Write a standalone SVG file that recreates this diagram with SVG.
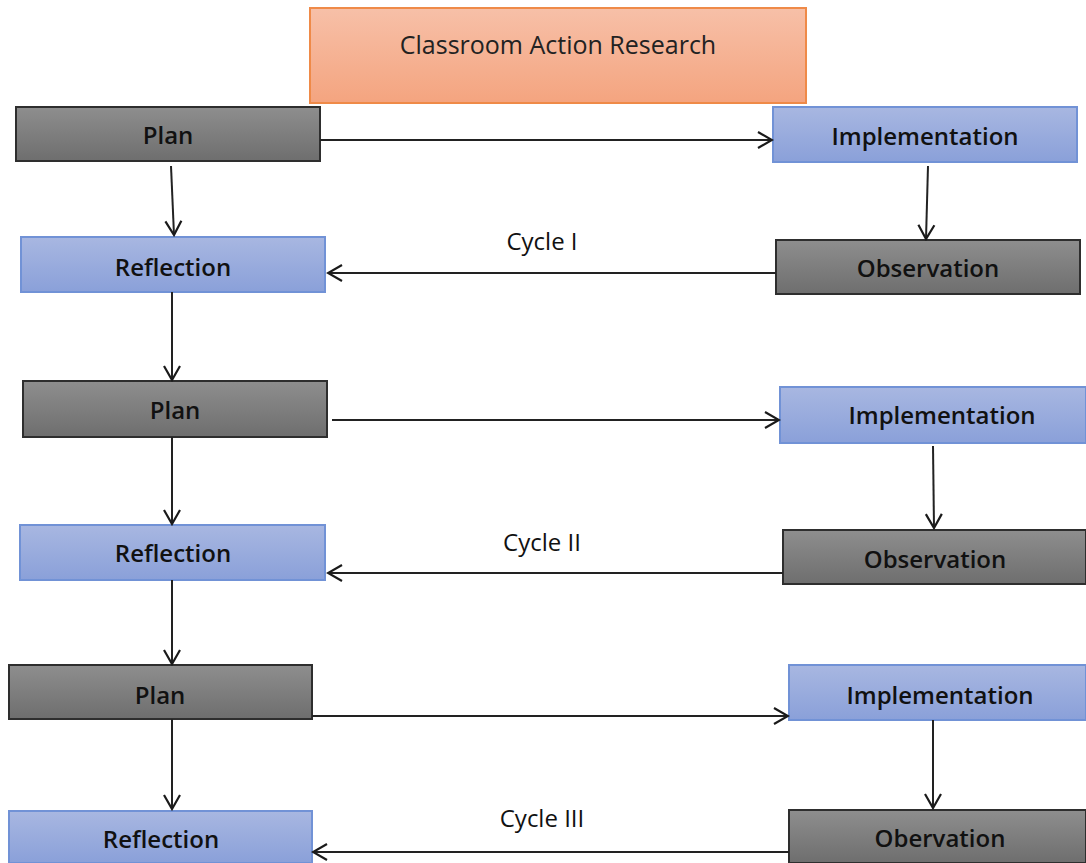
<svg xmlns="http://www.w3.org/2000/svg" width="1086" height="863" viewBox="0 0 1086 863">
<defs>
<linearGradient id="gGray" x1="0" y1="0" x2="0" y2="1"><stop offset="0" stop-color="#8e8e8e"/><stop offset="1" stop-color="#6e6e6e"/></linearGradient>
<linearGradient id="gBlue" x1="0" y1="0" x2="0" y2="1"><stop offset="0" stop-color="#a8b7e1"/><stop offset="1" stop-color="#8aa0d9"/></linearGradient>
<linearGradient id="gOrange" x1="0" y1="0" x2="0" y2="1"><stop offset="0" stop-color="#f7c0a8"/><stop offset="1" stop-color="#f4a47f"/></linearGradient>
<marker id="arr" viewBox="0 0 20 20" refX="18" refY="10" markerWidth="20" markerHeight="20" markerUnits="userSpaceOnUse" orient="auto">
<path d="M4,2 L18,10 L4,18" fill="none" stroke="#1a1a1a" stroke-width="2.2"/>
</marker>
<style>
.gray{fill:url(#gGray);stroke:#2e2e2e;stroke-width:2}
.blue{fill:url(#gBlue);stroke:#7192d6;stroke-width:2}
.orange{fill:url(#gOrange);stroke:#ef8a48;stroke-width:2}
.lbl{font-family:"Open Sans","Liberation Sans",sans-serif;font-weight:600;font-size:24px;fill:#111;text-anchor:middle}
.title{font-family:"Open Sans","Liberation Sans",sans-serif;font-size:25px;fill:#222;text-anchor:middle}
.cyc{font-family:"Open Sans","Liberation Sans",sans-serif;font-size:24px;fill:#111;text-anchor:middle}
.con line{stroke:#222;stroke-width:2;marker-end:url(#arr)}
</style>
</defs>
<rect width="1086" height="863" fill="#fff"/>
<g id="title"><rect class="orange" x="310" y="8" width="496" height="95"/><text class="title" x="558" y="54">Classroom Action Research</text></g>
<g id="plan1"><rect class="gray" x="16" y="107" width="304" height="54"/><text class="lbl" x="168" y="144">Plan</text></g>
<g id="impl1"><rect class="blue" x="773" y="107" width="304" height="55"/><text class="lbl" x="925" y="145">Implementation</text></g>
<g id="refl1"><rect class="blue" x="21" y="237" width="304" height="55"/><text class="lbl" x="173" y="276">Reflection</text></g>
<g id="obs1"><rect class="gray" x="776" y="240" width="304" height="54"/><text class="lbl" x="928" y="277">Observation</text></g>
<g id="plan2"><rect class="gray" x="23" y="381" width="304" height="56"/><text class="lbl" x="175" y="419">Plan</text></g>
<g id="impl2"><rect class="blue" x="780" y="387" width="306" height="56"/><text class="lbl" x="942" y="424">Implementation</text></g>
<g id="refl2"><rect class="blue" x="20" y="525" width="305" height="55"/><text class="lbl" x="173" y="562">Reflection</text></g>
<g id="obs2"><rect class="gray" x="783" y="530" width="303" height="54"/><text class="lbl" x="935" y="568">Observation</text></g>
<g id="plan3"><rect class="gray" x="9" y="665" width="303" height="54"/><text class="lbl" x="160" y="704">Plan</text></g>
<g id="impl3"><rect class="blue" x="789" y="665" width="297" height="55"/><text class="lbl" x="940" y="704">Implementation</text></g>
<g id="refl3"><rect class="blue" x="9" y="811" width="303" height="52"/><text class="lbl" x="161" y="848">Reflection</text></g>
<g id="obs3"><rect class="gray" x="789" y="810" width="297" height="53"/><text class="lbl" x="940" y="847">Obervation</text></g>
<g id="labels">
<text class="cyc" x="542" y="250">Cycle I</text>
<text class="cyc" x="542" y="551">Cycle II</text>
<text class="cyc" x="542" y="827">Cycle III</text>
</g>
<g id="connectors" class="con">
<line x1="320" y1="140" x2="772" y2="140"/>
<line x1="171" y1="166" x2="174" y2="235"/>
<line x1="928" y1="166" x2="926" y2="239"/>
<line x1="776" y1="273" x2="328" y2="273"/>
<line x1="172" y1="292" x2="172" y2="380"/>
<line x1="332" y1="420" x2="779" y2="420"/>
<line x1="933" y1="446" x2="934" y2="528"/>
<line x1="172" y1="437" x2="172" y2="524"/>
<line x1="783" y1="573" x2="328" y2="573"/>
<line x1="172" y1="580" x2="172" y2="664"/>
<line x1="312" y1="716" x2="788" y2="716"/>
<line x1="933" y1="720" x2="933" y2="808"/>
<line x1="172" y1="719" x2="172" y2="809"/>
<line x1="789" y1="852" x2="313" y2="852"/>
</g>
</svg>
